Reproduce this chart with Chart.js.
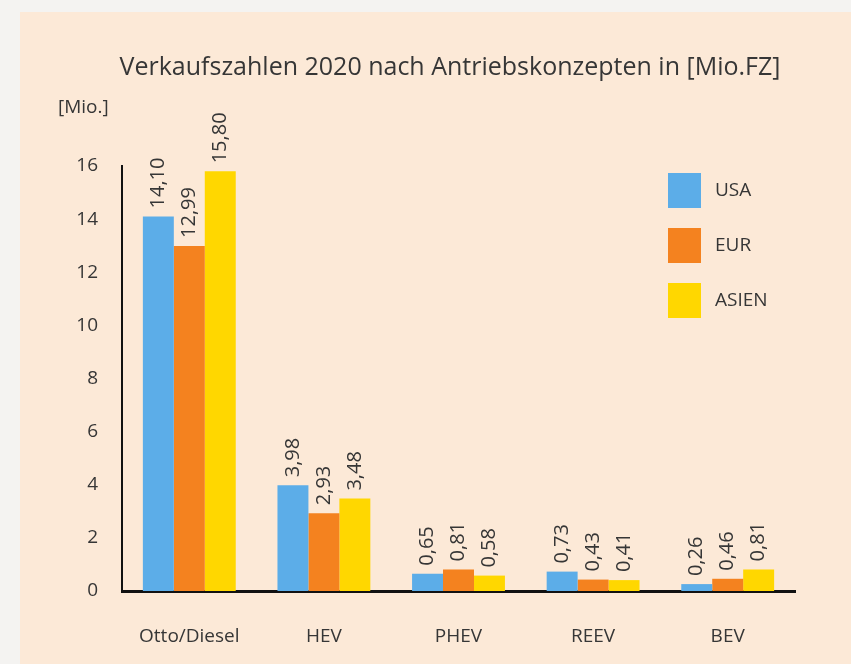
<!DOCTYPE html>
<html>
<head>
<meta charset="utf-8">
<script src="https://cdn.jsdelivr.net/npm/chart.js@4.4.1/dist/chart.umd.min.js"></script>
<style>
    html, body { margin: 0; padding: 0; background: #f4f3f1; }
    #frame { position: absolute; left: 20px; top: 12px; width: 831px; height: 652px; background: #fce9d7; }
    #wrap { position: absolute; left: 0; top: 0; width: 851px; height: 664px; }
</style>
</head>
<body>
<div id="frame"></div>
<div id="wrap"><canvas id="salesChart" width="851" height="664"></canvas></div>
<script>
// Chart data
const categories = ['Otto/Diesel', 'HEV', 'PHEV', 'REEV', 'BEV'];
const regions = ['USA', 'EUR', 'ASIEN'];
const usaValues = [14.10, 3.98, 0.65, 0.73, 0.26];
const eurValues = [12.99, 2.93, 0.81, 0.43, 0.46];
const asiaValues = [15.80, 3.48, 0.58, 0.41, 0.81];
const yTicks = [0, 2, 4, 6, 8, 10, 12, 14, 16];

const chartTitle = 'Verkaufszahlen 2020 nach Antriebskonzepten in [Mio.FZ]';
const unitLabel = '[Mio.]';
const regionColors = ['#5cade8', '#f4821f', '#ffd700'];
const textColor = '#363636';
const fontFamily = "'Open Sans', 'Noto Sans', sans-serif";

function formatValue(v) {
    return v.toFixed(2).replace('.', ',');
}

/**
 * Draws rotated value labels above each bar
 */
const valueLabelPlugin = {
    id: 'valueLabels',
    afterDatasetsDraw(chart) {
        const ctx = chart.ctx;
        ctx.save();
        ctx.fillStyle = textColor;
        ctx.font = '20px ' + fontFamily;
        ctx.textAlign = 'left';
        ctx.textBaseline = 'middle';
        chart.data.datasets.forEach((ds, i) => {
            chart.getDatasetMeta(i).data.forEach((bar, j) => {
                ctx.save();
                ctx.translate(bar.x, bar.y - 8);
                ctx.rotate(-Math.PI / 2);
                ctx.fillText(formatValue(ds.data[j]), 0, 0);
                ctx.restore();
            });
        });
        ctx.restore();
    }
};

/**
 * Draws the title, the unit label and the legend
 */
const extrasPlugin = {
    id: 'extras',
    afterDraw(chart) {
        const ctx = chart.ctx;
        ctx.save();
        ctx.fillStyle = textColor;
        ctx.textBaseline = 'middle';

        ctx.font = '25px ' + fontFamily;
        ctx.textAlign = 'center';
        ctx.fillText(chartTitle, 450, 68);

        ctx.font = '19px ' + fontFamily;
        ctx.textAlign = 'left';
        ctx.fillText(unitLabel, 58, 108);

        chart.data.datasets.forEach((ds, i) => {
            const y = 173 + i * 55;
            ctx.fillStyle = ds.backgroundColor;
            ctx.fillRect(668, y, 33, 35);
            ctx.fillStyle = textColor;
            ctx.fillText(ds.label, 715, y + 18);
        });
        ctx.restore();
    }
};

new Chart(document.getElementById('salesChart').getContext('2d'), {
    type: 'bar',
    data: {
        labels: categories,
        datasets: [
            { label: regions[0], data: usaValues, backgroundColor: regionColors[0] },
            { label: regions[1], data: eurValues, backgroundColor: regionColors[1] },
            { label: regions[2], data: asiaValues, backgroundColor: regionColors[2] }
        ]
    },
    options: {
        responsive: false,
        animation: false,
        layout: { padding: { top: 166, left: 0, right: 56, bottom: 0 } },
        datasets: {
            bar: { barPercentage: 1, categoryPercentage: 0.69 }
        },
        plugins: {
            legend: { display: false },
            tooltip: { enabled: false },
            title: { display: false }
        },
        scales: {
            x: {
                grid: { display: false },
                border: { display: true, color: '#111', width: 3 },
                ticks: { color: textColor, padding: 26, font: { family: fontFamily, size: 19 } },
                afterFit(scale) { scale.height = 73; }
            },
            y: {
                min: 0,
                max: 16,
                afterBuildTicks(scale) { scale.ticks = yTicks.map(v => ({ value: v })); },
                grid: { display: false, drawTicks: false },
                border: { display: true, color: '#111', width: 2 },
                ticks: { color: textColor, padding: 24, font: { family: fontFamily, size: 19 } },
                afterFit(scale) { scale.width = 122; }
            }
        }
    },
    plugins: [valueLabelPlugin, extrasPlugin]
});
</script>
</body>
</html>
